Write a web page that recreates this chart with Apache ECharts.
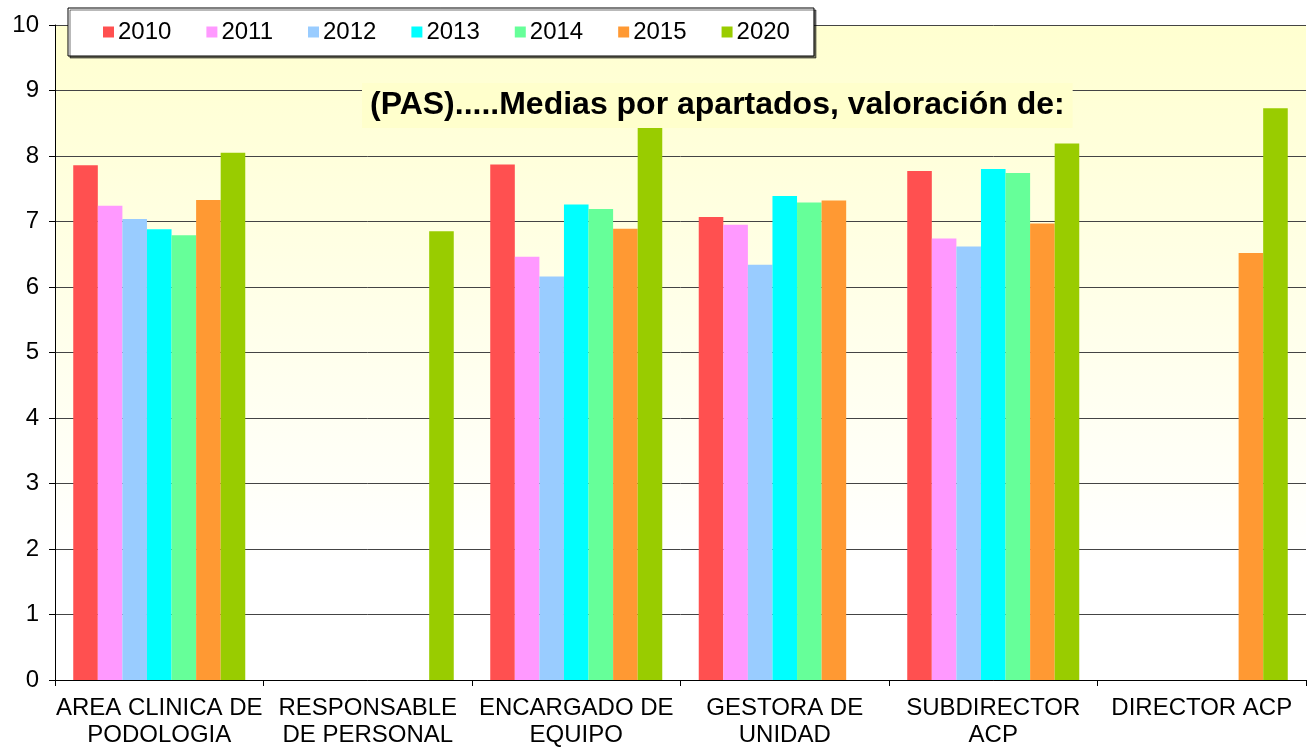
<!DOCTYPE html>
<html>
<head>
<meta charset="utf-8">
<script src="https://cdn.jsdelivr.net/npm/echarts@6/dist/echarts.min.js"></script>
<style>html,body{margin:0;padding:0;background:#fff}#c{width:1314px;height:749px}</style>
</head>
<body>
<div id="c"></div>
<script>
const categories = ["AREA CLINICA DE\nPODOLOGIA", "RESPONSABLE\nDE PERSONAL", "ENCARGADO DE\nEQUIPO", "GESTORA DE\nUNIDAD", "SUBDIRECTOR\nACP", "DIRECTOR ACP"];
const years = ["2010", "2011", "2012", "2013", "2014", "2015", "2020"];
const v2010 = [7.86, null, 7.87, 7.07, 7.77, null];
const v2011 = [7.24, null, 6.46, 6.95, 6.74, null];
const v2012 = [7.04, null, 6.16, 6.34, 6.62, null];
const v2013 = [6.88, null, 7.26, 7.39, 7.80, null];
const v2014 = [6.79, null, 7.19, 7.29, 7.74, null];
const v2015 = [7.33, null, 6.89, 7.32, 6.97, 6.52];
const v2020 = [8.05, 6.85, 8.45, null, 8.19, 8.73];
const yTicks = [0, 1, 2, 3, 4, 5, 6, 7, 8, 9, 10];
const colors = ["#FF5050", "#FF99FF", "#99CCFF", "#00FFFF", "#66FF99", "#FF9933", "#99CC00"];
const values = [v2010, v2011, v2012, v2013, v2014, v2015, v2020];

const chart = echarts.init(document.getElementById('c'));
const font = "'Liberation Sans', Arial, sans-serif";
chart.setOption({
  animation: false,
  textStyle: { fontFamily: font },
  title: {
    text: "(PAS).....Medias por apartados, valoración de:",
    left: 362, top: 83,
    padding: [6, 8, 6, 8],
    backgroundColor: '#FFFFCC',
    textStyle: { fontSize: 32, fontWeight: 'bold', color: '#000', fontFamily: font, lineHeight: 33 }
  },
  legend: {
    data: years,
    left: 68, top: 8,
    padding: [12, 24, 12, 35],
    itemWidth: 11, itemHeight: 11, itemGap: 35,
    icon: 'rect',
    backgroundColor: '#fff',
    borderColor: '#000', borderWidth: 1,
    shadowColor: 'rgba(0,0,0,0.55)', shadowOffsetX: 2, shadowOffsetY: 2, shadowBlur: 0,
    textStyle: { fontSize: 24, color: '#000', fontFamily: font, padding: [0, 0, 0, -1] }
  },
  grid: {
    left: 55, right: 8, top: 25, bottom: 68,
    show: true, borderWidth: 0,
    backgroundColor: {
      type: 'linear', x: 0, y: 0, x2: 0, y2: 1,
      colorStops: [
        { offset: 0, color: '#FFFFD0' },
        { offset: 0.45, color: '#FFFFEA' },
        { offset: 0.82, color: '#FFFFFF' },
        { offset: 1, color: '#FFFFFF' }
      ]
    }
  },
  xAxis: {
    type: 'category',
    data: categories,
    axisLine: { lineStyle: { color: '#000', width: 1 } },
    axisTick: { show: true, length: 6, alignWithLabel: false, lineStyle: { color: '#000' } },
    axisLabel: { fontSize: 24, color: '#000', margin: 15, lineHeight: 27, interval: 0, fontFamily: font },
    splitLine: { show: false }
  },
  yAxis: {
    type: 'value',
    min: yTicks[0], max: yTicks[yTicks.length - 1], interval: 1,
    axisLine: { show: true, lineStyle: { color: '#000', width: 1 } },
    axisTick: { show: true, length: 6, lineStyle: { color: '#000' } },
    axisLabel: { fontSize: 24, color: '#000', margin: 16, fontFamily: font },
    splitLine: { show: true, lineStyle: { color: '#444', width: 1 } }
  },
  series: years.map((y, i) => ({
    name: y,
    type: 'bar',
    data: values[i],
    itemStyle: { color: colors[i] },
    barGap: '0%',
    barCategoryGap: '17.5%'
  }))
});
</script>
</body>
</html>
